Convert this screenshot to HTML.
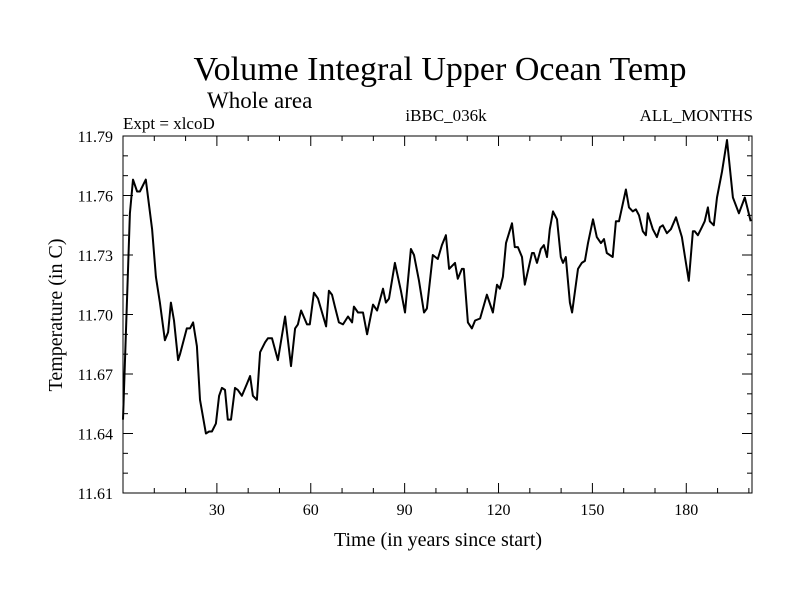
<!DOCTYPE html>
<html><head><meta charset="utf-8"><style>
body{margin:0;background:#fff}
svg{display:block;font-family:"Liberation Serif",serif}
</style></head><body>
<svg id="chart" width="800" height="600">
<text x="440" y="80" font-size="34" text-anchor="middle">Volume Integral Upper Ocean Temp</text>
<text x="207" y="108" font-size="23">Whole area</text>
<text x="123" y="129" font-size="17">Expt = xlcoD</text>
<text x="446" y="121" font-size="17" text-anchor="middle">iBBC_036k</text>
<text x="753" y="121" font-size="17" text-anchor="end">ALL_MONTHS</text>
<text x="438" y="546" font-size="20" text-anchor="middle">Time (in years since start)</text>
<text transform="translate(62,315) rotate(-90)" font-size="20" text-anchor="middle">Temperature (in C)</text>
<g id="axes"></g>
<path id="line" fill="none" stroke="#000" stroke-width="2" stroke-linejoin="round"/>
<rect x="123" y="136" width="629" height="357" fill="none" stroke="#000" stroke-width="1"/>
</svg>
<script>
const years=[0,2.2,3.2,4.5,5.4,7.3,9.3,10.5,11.8,13.4,14.4,15.3,16.3,17.6,18.2,20.4,21.4,22.4,23.6,24.6,26.5,27.5,28.4,29.7,30.7,31.6,32.6,33.5,34.5,35.8,36.7,38,39.6,40.6,41.5,42.8,43.8,45.4,46.3,47.6,49.5,51.8,53.7,55,55.9,56.9,58.8,59.7,61,62.3,64.9,65.8,66.8,67.7,69,70.3,71.9,73.2,73.8,75.1,76.7,78,79.9,81.2,83.1,84,85,86.9,88.8,90.1,92,93,94.6,96.2,97.1,99,100.6,101.9,103.2,104.2,106.1,107,108.3,108.9,110.2,111.5,112.5,114.1,116.3,118.2,119.5,120.4,121.4,122.4,124.3,125.2,126.2,127.5,128.4,130.7,131.3,132.3,133.5,134.5,135.5,136.4,137.4,138.7,139.9,140.6,141.5,142.8,143.5,145.4,146.6,147.6,148.6,150.2,151.4,152.7,153.7,154.6,156.5,157.5,158.5,160.7,161.7,162.9,163.9,164.9,166.1,167.1,167.7,169.3,170.6,171.6,172.5,173.8,175.1,176.7,178.6,179.6,180.8,182.1,182.7,183.7,185,185.9,186.9,187.5,188.8,189.8,191.4,193,194.9,196.8,198.7,200.6];
const temps=[11.647,11.751,11.768,11.762,11.762,11.768,11.743,11.719,11.706,11.687,11.691,11.706,11.697,11.677,11.680,11.693,11.693,11.696,11.684,11.657,11.640,11.641,11.641,11.645,11.659,11.663,11.662,11.647,11.647,11.663,11.662,11.659,11.665,11.669,11.659,11.657,11.681,11.686,11.688,11.688,11.677,11.699,11.674,11.693,11.695,11.702,11.695,11.695,11.711,11.708,11.694,11.712,11.710,11.704,11.696,11.695,11.699,11.696,11.704,11.701,11.701,11.690,11.705,11.702,11.713,11.706,11.708,11.726,11.712,11.701,11.733,11.730,11.717,11.701,11.703,11.730,11.728,11.735,11.740,11.723,11.726,11.718,11.723,11.723,11.696,11.693,11.697,11.698,11.710,11.701,11.715,11.713,11.719,11.736,11.746,11.734,11.734,11.729,11.715,11.731,11.731,11.726,11.733,11.735,11.729,11.743,11.752,11.748,11.729,11.726,11.729,11.706,11.701,11.723,11.726,11.727,11.736,11.748,11.739,11.736,11.738,11.731,11.729,11.747,11.747,11.763,11.754,11.752,11.753,11.750,11.742,11.740,11.751,11.743,11.739,11.744,11.745,11.741,11.743,11.749,11.739,11.729,11.717,11.742,11.742,11.740,11.744,11.747,11.754,11.747,11.745,11.759,11.772,11.788,11.759,11.751,11.759,11.747];
const xTickLabels=[30,60,90,120,150,180];
const yTickLabels=["11.61","11.64","11.67","11.70","11.73","11.76","11.79"];
const X0=123,X1=752,Y0=493,Y1=136,XMIN=0,XMAX=201,YMIN=11.61,YMAX=11.79;
const sx=v=>X0+(v-XMIN)/(XMAX-XMIN)*(X1-X0);
const sy=v=>Y0-(v-YMIN)/(YMAX-YMIN)*(Y0-Y1);
const NS="http://www.w3.org/2000/svg";
const axes=document.getElementById('axes');
function ln(x1,y1,x2,y2,name){const l=document.createElementNS(NS,'line');l.setAttribute('x1',x1);l.setAttribute('y1',y1);l.setAttribute('x2',x2);l.setAttribute('y2',y2);l.setAttribute('stroke','#000');l.setAttribute('stroke-width','1');


axes.appendChild(l);}
function tx(x,y,s,anchor,name){const t=document.createElementNS(NS,'text');t.setAttribute('x',x);t.setAttribute('y',y);t.setAttribute('font-size','16');t.setAttribute('text-anchor',anchor);t.textContent=s;


axes.appendChild(t);}
for(let v=10;v<XMAX;v+=10){const x=sx(v);const L=(v%30===0)?10:5;ln(x,Y0,x,Y0-L,'x-tick');ln(x,Y1,x,Y1+L,'x-tick-top');}
xTickLabels.forEach(v=>tx(sx(v),Y0+22,String(v),'middle','x-tick-label'));
for(let i=0;i<=18;i++){const v=YMIN+i*0.01;const y=sy(v);const L=(i%3===0)?10:5;ln(X0,y,X0+L,y,'y-tick');ln(X1,y,X1-L,y,'y-tick-right');}
yTickLabels.forEach(s=>tx(113,sy(parseFloat(s))+6,s,'end','y-tick-label'));
let d='';years.forEach((v,i)=>{d+=(i?'L':'M')+sx(v).toFixed(1)+','+sy(temps[i]).toFixed(1);});
document.getElementById('line').setAttribute('d',d);
</script>
</body></html>
